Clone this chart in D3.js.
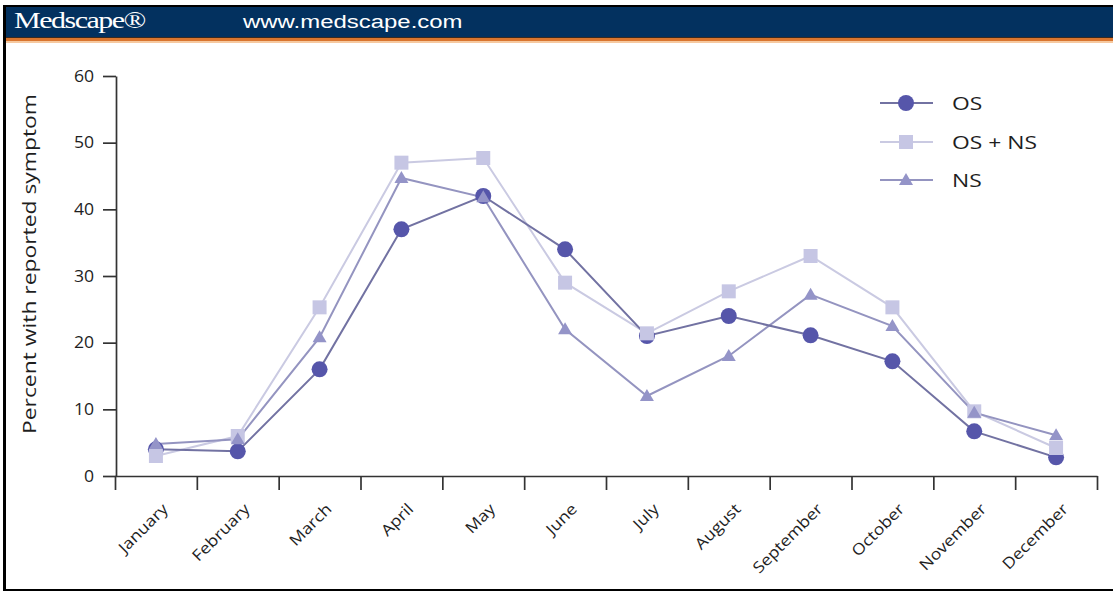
<!DOCTYPE html>
<html><head><meta charset="utf-8">
<script src="https://cdn.jsdelivr.net/npm/d3@7"></script>
<style>
body{margin:0;background:#fff;}
svg{display:block;}
</style></head>
<body>
<svg id="c" width="1113" height="592"></svg>
<script>
const months = ["January","February","March","April","May","June","July","August","September","October","November","December"];
const osValues   = [4, 3.7, 16, 37, 42, 34, 21, 24, 21.1, 17.2, 6.7, 2.8];
const osnsValues = [3, 6, 25.3, 47, 47.7, 29, 21.4, 27.7, 33, 25.3, 9.7, 4.2];
const nsValues   = [4.8, 5.5, 20.8, 44.7, 41.8, 22, 12, 18, 27.2, 22.5, 9.5, 6.1];
const yTicks = [0,10,20,30,40,50,60];
const seriesNames = ["OS","OS + NS","NS"];

const svg = d3.select("#c");
const font = "'Open Sans', 'Noto Sans', sans-serif";
const ink = "#1e1e1e";
const fw = 500;

// frame / header
svg.append("rect").attr("x",0).attr("y",0).attr("width",1113).attr("height",592).attr("fill","#fff");
svg.append("rect").attr("x",3).attr("y",5).attr("width",1110).attr("height",2).attr("fill","#000");
svg.append("rect").attr("x",3).attr("y",7).attr("width",1110).attr("height",30).attr("fill","#03315f");
svg.append("rect").attr("x",3).attr("y",37).attr("width",1110).attr("height",1).attr("fill","#3a2a20");
svg.append("rect").attr("x",3).attr("y",38).attr("width",1110).attr("height",3).attr("fill","#d9752e");
svg.append("rect").attr("x",3).attr("y",41).attr("width",1110).attr("height",2).attr("fill","#f6c9a0");
svg.append("rect").attr("x",3).attr("y",5).attr("width",3).attr("height",586).attr("fill","#000");
svg.append("rect").attr("x",3).attr("y",589).attr("width",1110).attr("height",2).attr("fill","#000");
svg.append("text").attr("transform","translate(14,28) scale(1.25,1)").attr("fill","#fff")
  .attr("font-family","'Liberation Serif','DejaVu Serif',serif").attr("font-size",24)
  .attr("letter-spacing",-1.2).text("Medscape®");
svg.append("text").attr("transform","translate(243,28) scale(1.26,1)").attr("fill","#fff")
  .attr("font-family","'Liberation Sans',Arial,sans-serif").attr("font-size",19).text("www.medscape.com");

// scales
const x = d3.scaleBand().domain(months).range([115,1097]);
const xb = d3.scaleLinear().domain([0,12]).range([115,1097]);
const y = d3.scaleLinear().domain([0,60]).range([476,76]);

// y axis
const gy = svg.append("g").attr("transform","translate(116,0)")
  .call(d3.axisLeft(y).tickValues(yTicks).tickSize(13).tickSizeOuter(0));
gy.select(".domain").attr("stroke","#333").attr("stroke-width",1.7);
gy.selectAll(".tick line").attr("stroke","#333").attr("stroke-width",1.7);
gy.selectAll(".tick text").attr("font-family",font).attr("font-size",16).attr("font-weight",fw).attr("fill",ink)
  .attr("x",0).attr("transform","translate(-22,0) scale(1.1,1)");

// x axis boundary ticks
const gx = svg.append("g").attr("transform","translate(0,476)")
  .call(d3.axisBottom(xb).tickValues(d3.range(13)).tickSize(14).tickSizeOuter(0).tickFormat(""));
gx.select(".domain").attr("stroke","#333").attr("stroke-width",1.7);
gx.selectAll(".tick line").attr("stroke","#333").attr("stroke-width",1.7);

// month labels
const gl = svg.append("g").attr("transform","translate(0,476)")
  .call(d3.axisBottom(x).tickSize(0).tickSizeOuter(0));
gl.select(".domain").remove();
gl.selectAll(".tick text")
  .attr("font-family",font).attr("font-size",15.5).attr("font-weight",fw).attr("fill",ink)
  .attr("text-anchor","end").attr("dy",0).attr("y",0)
  .attr("transform","translate(13,34) rotate(-45) scale(1.14,1)");

// y axis title
svg.append("text").attr("transform","translate(36,264) rotate(-90) scale(1.27,1)")
  .attr("text-anchor","middle").attr("font-family",font).attr("font-size",18).attr("font-weight",fw).attr("fill",ink)
  .text("Percent with reported symptom");

const line = d3.line().x((d,i)=>x(months[i])+x.bandwidth()/2).y(d=>y(d));
const cx = i => x(months[i])+x.bandwidth()/2;

const styles = {
  "OS":      {vals: osValues,   line:"#7272a2", fill:"#5656aa", shape:"circle"},
  "OS + NS": {vals: osnsValues, line:"#cacae2", fill:"#c6c6e4", shape:"square"},
  "NS":      {vals: nsValues,   line:"#9494c0", fill:"#9494c8", shape:"triangle"}
};
function marker(g, shape, fill, px, py){
  if(shape==="circle") g.append("circle").attr("cx",px).attr("cy",py).attr("r",8).attr("fill",fill);
  else if(shape==="square") g.append("rect").attr("x",px-7).attr("y",py-7).attr("width",14).attr("height",14).attr("fill",fill);
  else g.append("path").attr("d",`M${px},${py-7}L${px+7},${py+5}L${px-7},${py+5}Z`).attr("fill",fill);
}
// lines
["OS + NS","NS","OS"].forEach(n=>{
  const s = styles[n];
  svg.append("path").datum(s.vals).attr("d",line).attr("fill","none")
    .attr("stroke",s.line).attr("stroke-width",2);
});
// markers
["OS","OS + NS","NS"].forEach(n=>{
  const s = styles[n];
  const g = svg.append("g");
  s.vals.forEach((v,i)=>marker(g,s.shape,s.fill,cx(i),y(v)));
});

// legend
const legY = [103,142,180];
seriesNames.forEach((n,i)=>{
  const s = styles[n];
  const g = svg.append("g");
  g.append("line").attr("x1",880).attr("x2",933).attr("y1",legY[i]).attr("y2",legY[i])
    .attr("stroke",s.line).attr("stroke-width",2);
  marker(g,s.shape,s.fill,906,legY[i]);
  g.append("text").attr("transform",`translate(952,${legY[i]+6.5}) scale(1.27,1)`).attr("font-family",font)
    .attr("font-size",18).attr("font-weight",fw).attr("fill",ink).text(n);
});
</script>
</body></html>
